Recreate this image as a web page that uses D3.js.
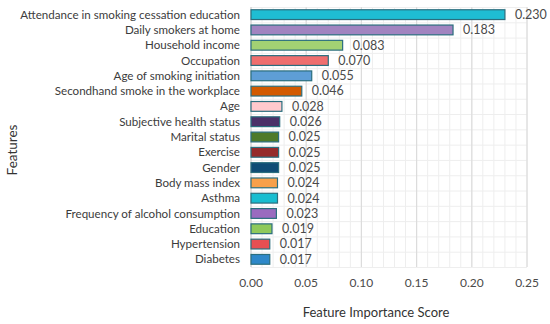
<!DOCTYPE html>
<html><head><meta charset="utf-8">
<script src="https://cdn.jsdelivr.net/npm/d3@7"></script>
<style>body{margin:0;background:#fff}svg{display:block}text{font-family:Lato,"Open Sans",sans-serif}</style>
</head><body><svg id="c" width="550" height="324"></svg>
<script>
const features = ["Attendance in smoking cessation education","Daily smokers at home","Household income","Occupation","Age of smoking initiation","Secondhand smoke in the workplace","Age","Subjective health status","Marital status","Exercise","Gender","Body mass index","Asthma","Frequency of alcohol consumption","Education","Hypertension","Diabetes"];
const scores = [0.230,0.183,0.083,0.070,0.055,0.046,0.028,0.026,0.025,0.025,0.025,0.024,0.024,0.023,0.019,0.017,0.017];
const colors = ["#1fbdd3","#a184c0","#a2d173","#ef6e6e","#5e9ed6","#d35a00","#ffc9cd","#4b3068","#4e7a29","#952b2b","#0f4c75","#f7a04a","#18bdd0","#9a6bbf","#8fc95b","#e64f52","#2e88c9"];
const xTicks = [0,0.05,0.10,0.15,0.20,0.25];

const svg = d3.select("#c");
const L=251,R=527,T=7,B=267;
const x = d3.scaleLinear().domain([0,0.25]).range([L,R]);
const y = d3.scaleBand().domain(features).range([T,B]).paddingInner(0.36).paddingOuter(0.18);
const yb = d3.scaleBand().domain(features).range([T,B]);

// minor grid
const g = svg.append("g");
g.selectAll(".mv").data(d3.range(0,0.2501,0.01)).join("line")
 .attr("x1",d=>x(d)).attr("x2",d=>x(d)).attr("y1",T).attr("y2",B)
 .attr("stroke","#eeeeee").attr("stroke-width",1);
g.selectAll(".hh").data(features.concat([null])).join("line")
 .attr("x1",L).attr("x2",R)
 .attr("y1",(d,i)=>i<features.length?yb(d)+0.5:B+0.5).attr("y2",(d,i)=>i<features.length?yb(d)+0.5:B+0.5)
 .attr("stroke","#eeeeee").attr("stroke-width",1);
g.selectAll(".mj").data(xTicks.slice(1)).join("line")
 .attr("x1",d=>x(d)).attr("x2",d=>x(d)).attr("y1",T).attr("y2",B)
 .attr("stroke","#dcdcdc").attr("stroke-width",1.2);
g.append("line").attr("x1",L).attr("x2",L).attr("y1",T).attr("y2",B).attr("stroke","#c8c8c8").attr("stroke-width",1);

// bars
svg.selectAll(".bar").data(features).join("rect")
 .attr("x",x(0)).attr("y",d=>y(d)).attr("height",y.bandwidth())
 .attr("width",(d,i)=>x(scores[i])-x(0))
 .attr("fill",(d,i)=>colors[i]).attr("stroke","#2b6e7e").attr("stroke-width",1.2);

// value labels
svg.selectAll(".val").data(features).join("text")
 .attr("x",(d,i)=>x(scores[i])+10).attr("y",d=>y(d)+y.bandwidth()/2)
 .attr("dy","0.35em").attr("font-size",12.5).attr("fill","#4a4a4a")
 .text((d,i)=>scores[i].toFixed(3));

// category labels
svg.selectAll(".cat").data(features).join("text")
 .attr("x",240).attr("y",d=>y(d)+y.bandwidth()/2).attr("dy","0.35em")
 .attr("text-anchor","end").attr("font-size",11.6).attr("fill","#3c3c3c")
 .text(d=>d);

// x tick labels
svg.selectAll(".xt").data(xTicks).join("text")
 .attr("x",d=>x(d)).attr("y",283).attr("dy","0.35em").attr("text-anchor","middle")
 .attr("font-size",12).attr("fill","#4a4a4a").text(d=>d.toFixed(2));

svg.append("text").attr("x",376).attr("y",312).attr("dy","0.35em").attr("text-anchor","middle")
 .attr("font-size",13).attr("fill","#333").text("Feature Importance Score");
svg.append("text").attr("transform","translate(12,150) rotate(-90)").attr("dy","0.35em").attr("text-anchor","middle")
 .attr("font-size",13.5).attr("fill","#333").text("Features");
</script></body></html>
